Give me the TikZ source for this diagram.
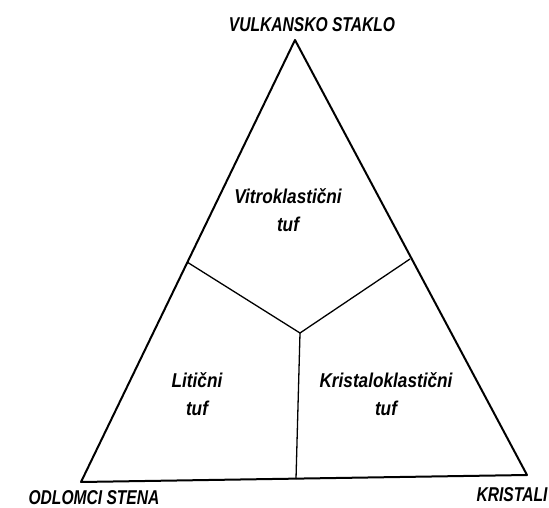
\documentclass[tikz,border=0pt]{standalone}
\usepackage{fontspec}
\setmainfont{Liberation Sans}
\newfontfamily\condfont[FakeStretch=0.78]{Liberation Sans}
\newfontfamily\fieldfont[FakeStretch=0.86]{Liberation Sans}
\begin{document}
\begin{tikzpicture}[x=1pt,y=-1pt,
  edge/.style={line width=2pt, line join=round},
  inner/.style={line width=1.3pt},
  lbl/.style={font=\condfont\bfseries\itshape\fontsize{20}{20}\selectfont, inner sep=0pt},
  fieldlbl/.style={font=\fieldfont\bfseries\itshape\fontsize{20}{28}\selectfont, inner sep=0pt, align=center}]
\useasboundingbox (0,0) rectangle (549,508);
\coordinate (A) at (295,40);
\coordinate (B) at (81,482);
\coordinate (C) at (527,475);
\coordinate (L) at (187,262);
\coordinate (R) at (410,259);
\coordinate (M) at (300,333);
\coordinate (D) at (296,479);
\draw[edge] (A) -- (B) -- (C) -- cycle;
\draw[inner] (L) -- (M) -- (R);
\draw[inner] (M) -- (D);
\node[lbl] (top) at (312,25) {VULKANSKO STAKLO};
\node[lbl] (bl) at (94,498) {ODLOMCI STENA};
\node[lbl] (br) at (512,495) {KRISTALI};
\node[fieldlbl] (vit) at (288,210) {Vitroklastični\\tuf};
\node[fieldlbl] (lit) at (197,394) {Litični\\tuf};
\node[fieldlbl] (kri) at (386,394) {Kristaloklastični\\tuf};
\end{tikzpicture}
\end{document}
